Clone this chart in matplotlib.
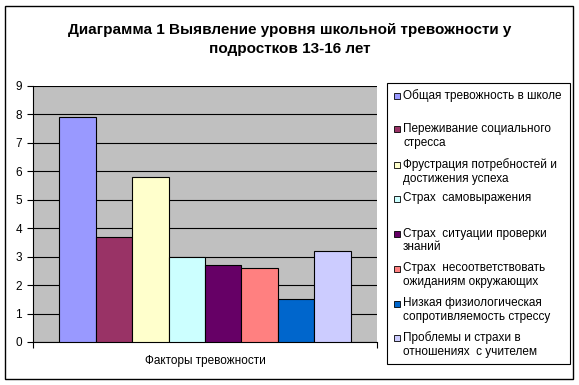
import matplotlib.pyplot as plt
import numpy as np
from matplotlib.patches import Rectangle

plt.rcParams['font.family'] = ['Liberation Sans', 'DejaVu Sans']

# data
factors = [
  'Общая тревожность в школе',
  'Переживание социального\nстресса',
  'Фрустрация потребностей и\nдостижения успеха',
  'Страх  самовыражения',
  'Страх  ситуации проверки\nзнаний',
  'Страх  несоответствовать\nожиданиям окружающих',
  'Низкая физиологическая\nсопротивляемость стрессу',
  'Проблемы и страхи в\nотношениях  с учителем',
]
values = [7.9, 3.7, 5.8, 3.0, 2.7, 2.6, 1.5, 3.2]
colors = ['#9999FF', '#993366', '#FFFFCC', '#CCFFFF', '#660066', '#FF8080', '#0066CC', '#CCCCFF']
category = 'Факторы тревожности'
title = 'Диаграмма 1 Выявление уровня школьной тревожности у\nподростков 13-16 лет'

W, H = 579, 385
fig = plt.figure(figsize=(W / 100, H / 100), dpi=100)

def fx(px):
  return px / W

def fy(py):
  return 1 - py / H

# outer frame
fig.patches.append(Rectangle((fx(5), fy(379)), fx(573) - fx(5), fy(6) - fy(379),
                             transform=fig.transFigure, fill=False, edgecolor='black', linewidth=1))

ax = fig.add_axes([fx(33), fy(342), fx(377) - fx(33), fy(86) - fy(342)])
ax.set_facecolor('#C0C0C0')

n = len(values)
width = 0.846 / n
pos = (np.arange(n) - (n - 1) / 2) * width
ax.bar(pos, values, width=width, color=colors, edgecolor='black', linewidth=0.8, zorder=3)

ax.set_xlim(-0.5, 0.5)
ax.set_ylim(0, 9)
ax.set_yticks(range(10))
ax.yaxis.grid(True, color='black', linewidth=0.8, zorder=1)
ax.set_axisbelow(True)
ax.set_xticks([-0.5, 0.5])
ax.set_xticklabels(['', ''])
ax.tick_params(axis='both', direction='out', length=4, width=0.8, labelsize=8.5, colors='black')
ax.tick_params(axis='y', pad=4)
ax.set_xlabel(category, fontsize=8.5, labelpad=2)
for s in ['top', 'right']:
  ax.spines[s].set_visible(False)
for s in ['left', 'bottom']:
  ax.spines[s].set_linewidth(0.8)

fig.text(0.5, fy(23), title, ha='center', va='top', fontsize=11, fontweight='bold',
         linespacing=1.5)

# legend drawn by hand to keep Excel spacing
fig.patches.append(Rectangle((fx(387), fy(364)), fx(570) - fx(387), fy(83) - fy(364),
                             transform=fig.transFigure, facecolor='white', edgecolor='black', linewidth=0.8))
row_y = [96, 129.5, 165, 199, 234, 269, 303.5, 338]
for label, c, y in zip(factors, colors, row_y):
  fig.patches.append(Rectangle((fx(394), fy(y + 3)), fx(400) - fx(394), fy(y - 3) - fy(y + 3),
                               transform=fig.transFigure, facecolor=c, edgecolor='black', linewidth=0.6))
  fig.text(fx(403), fy(y - 6.5), label, ha='left', va='top', fontsize=8.5, linespacing=1.2)

fig.savefig('out.png', dpi=100)
